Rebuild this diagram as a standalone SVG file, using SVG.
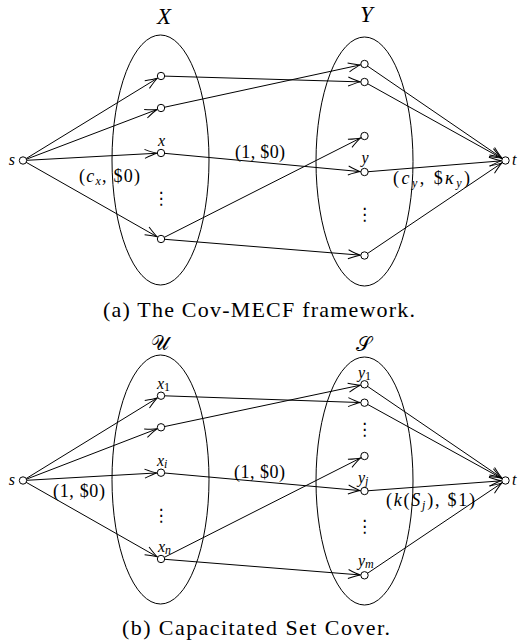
<svg xmlns="http://www.w3.org/2000/svg" width="521" height="641" viewBox="0 0 521 641">
<style>
.e{fill:none;stroke:#000;stroke-width:1}
.l{fill:none;stroke:#000;stroke-width:1;marker-end:url(#ar)}
.n{fill:#fff;stroke:#000;stroke-width:1}
text{font-family:"Liberation Serif","DejaVu Serif",serif;fill:#000}
.i{font-style:italic}
.lab{font-size:18px}
.nl{font-size:16px;font-style:italic}
.cap{font-size:22px}
.big{font-size:23px;font-style:italic}
.scr{font-size:20px}
.dots{font-family:"DejaVu Sans",sans-serif;font-size:17px}
</style>
<defs>
<marker id="ar" viewBox="-14 -6 18.3 12" refX="4.3" refY="0" markerWidth="18.3" markerHeight="12" orient="auto" markerUnits="userSpaceOnUse">
<path d="M-12,-4.5 Q-4,-1 0,0 Q-4,1 -12,4.5" fill="none" stroke="#000" stroke-width="1"/>
</marker>
</defs>

<g id="setX"><ellipse class="e" cx="160.5" cy="160" rx="48.5" ry="125"/><text class="big" x="164" y="24" text-anchor="middle">X</text></g>
<g id="setY"><ellipse class="e" cx="364.5" cy="161.5" rx="48.5" ry="124.5"/><text class="big" x="366.5" y="22" text-anchor="middle">Y</text></g>
<g id="setU"><ellipse class="e" cx="160.5" cy="479.5" rx="48.5" ry="124.5"/><text class="scr" x="160" y="350" text-anchor="middle">𝒰</text></g>
<g id="setS"><ellipse class="e" cx="364.5" cy="481" rx="48.5" ry="124"/><text class="scr" x="363" y="351" text-anchor="middle">𝒮</text></g>

<g id="connectors">
<line class="l" x1="23" y1="160.5" x2="161" y2="76"/>
<line class="l" x1="23" y1="160.5" x2="161" y2="108"/>
<line class="l" x1="23" y1="160.5" x2="161" y2="153"/>
<line class="l" x1="23" y1="160.5" x2="161" y2="239"/>
<line class="l" x1="161" y1="76" x2="364.5" y2="82"/>
<line class="l" x1="161" y1="108" x2="364.5" y2="64"/>
<line class="l" x1="161" y1="153" x2="364.5" y2="172"/>
<line class="l" x1="161" y1="239" x2="364.5" y2="136"/>
<line class="l" x1="161" y1="239" x2="364.5" y2="255.5"/>
<line class="l" x1="364.5" y1="64" x2="505.5" y2="160.5"/>
<line class="l" x1="364.5" y1="82" x2="505.5" y2="160.5"/>
<line class="l" x1="364.5" y1="172" x2="505.5" y2="160.5"/>
<line class="l" x1="364.5" y1="255.5" x2="505.5" y2="160.5"/>

<line class="l" x1="23" y1="480.5" x2="161" y2="395.7"/>
<line class="l" x1="23" y1="480.5" x2="161" y2="427.3"/>
<line class="l" x1="23" y1="480.5" x2="161" y2="472.7"/>
<line class="l" x1="23" y1="480.5" x2="161" y2="559"/>
<line class="l" x1="161" y1="395.7" x2="364.5" y2="402.7"/>
<line class="l" x1="161" y1="427.3" x2="364.5" y2="384.3"/>
<line class="l" x1="161" y1="472.7" x2="364.5" y2="491"/>
<line class="l" x1="161" y1="559" x2="364.5" y2="456"/>
<line class="l" x1="161" y1="559" x2="364.5" y2="575.3"/>
<line class="l" x1="364.5" y1="384.3" x2="505.5" y2="480.5"/>
<line class="l" x1="364.5" y1="402.7" x2="505.5" y2="480.5"/>
<line class="l" x1="364.5" y1="491" x2="505.5" y2="480.5"/>
<line class="l" x1="364.5" y1="575.3" x2="505.5" y2="480.5"/>

<text class="lab" x="79" y="182" textLength="61">(<tspan class="i">c</tspan><tspan class="i" font-size="12" dy="3">x</tspan><tspan dy="-3">, $0)</tspan></text>
<text class="lab" x="235" y="157.5" textLength="50">(1, $0)</text>
<text class="lab" x="393" y="183.5" textLength="77">(<tspan class="i">c</tspan><tspan class="i" font-size="12" dy="3">y</tspan><tspan dy="-3">, $</tspan><tspan class="i">κ</tspan><tspan class="i" font-size="12" dy="3">y</tspan><tspan dy="-3">)</tspan></text>
<text class="lab" x="53" y="496.5" textLength="52">(1, $0)</text>
<text class="lab" x="234" y="477.5" textLength="51">(1, $0)</text>
<text class="lab" x="386" y="505.5" textLength="89">(<tspan class="i">k</tspan>(<tspan class="i">S</tspan><tspan class="i" font-size="12" dy="3">j</tspan><tspan dy="-3">), $1)</tspan></text>
</g>

<g id="s1"><circle class="n" cx="23" cy="160.5" r="3.7"/><text class="nl" x="15" y="164.5" text-anchor="end">s</text></g>
<g id="t1"><circle class="n" cx="505.5" cy="160.5" r="3.7"/><text class="nl" x="512" y="165">t</text></g>
<g id="x1n"><circle class="n" cx="161" cy="76" r="3.7"/></g>
<g id="x2n"><circle class="n" cx="161" cy="108" r="3.7"/></g>
<g id="x3n"><circle class="n" cx="161" cy="153" r="3.7"/><text class="nl" x="161.5" y="145.5" text-anchor="middle">x</text></g>
<g id="x4n"><circle class="n" cx="161" cy="239" r="3.7"/></g>
<g id="xdots"><text class="dots" x="161" y="204" text-anchor="middle">⋮</text></g>
<g id="y1n"><circle class="n" cx="364.5" cy="64" r="3.7"/></g>
<g id="y2n"><circle class="n" cx="364.5" cy="82" r="3.7"/></g>
<g id="y3n"><circle class="n" cx="364.5" cy="136" r="3.7"/></g>
<g id="y4n"><circle class="n" cx="364.5" cy="172" r="3.7"/><text class="nl" x="365" y="163" text-anchor="middle">y</text></g>
<g id="y5n"><circle class="n" cx="364.5" cy="255.5" r="3.7"/></g>
<g id="ydots"><text class="dots" x="364.5" y="220" text-anchor="middle">⋮</text></g>

<g id="s2"><circle class="n" cx="23" cy="480.5" r="3.7"/><text class="nl" x="15" y="484.5" text-anchor="end">s</text></g>
<g id="t2"><circle class="n" cx="505.5" cy="480.5" r="3.7"/><text class="nl" x="512" y="485">t</text></g>
<g id="u1"><circle class="n" cx="161" cy="395.7" r="3.7"/><text class="nl" x="157" y="389">x<tspan font-size="12" font-style="normal" dy="2">1</tspan></text></g>
<g id="u2"><circle class="n" cx="161" cy="427.3" r="3.7"/></g>
<g id="u3"><circle class="n" cx="161" cy="472.7" r="3.7"/><text class="nl" x="157" y="466">x<tspan font-size="12" dy="2">i</tspan></text></g>
<g id="u4"><circle class="n" cx="161" cy="559" r="3.7"/><text class="nl" x="158" y="552">x<tspan font-size="12" dy="2">n</tspan></text></g>
<g id="udots"><text class="dots" x="161" y="521" text-anchor="middle">⋮</text></g>
<g id="v1"><circle class="n" cx="364.5" cy="384.3" r="3.7"/><text class="nl" x="358" y="378">y<tspan font-size="12" font-style="normal" dy="2">1</tspan></text></g>
<g id="v2"><circle class="n" cx="364.5" cy="402.7" r="3.7"/></g>
<g id="vdots1"><text class="dots" x="364.5" y="435" text-anchor="middle">⋮</text></g>
<g id="v3"><circle class="n" cx="364.5" cy="456" r="3.7"/></g>
<g id="v4"><circle class="n" cx="364.5" cy="491" r="3.7"/><text class="nl" x="358" y="483">y<tspan font-size="12" dy="2">j</tspan></text></g>
<g id="vdots2"><text class="dots" x="364.5" y="532" text-anchor="middle">⋮</text></g>
<g id="v5"><circle class="n" cx="364.5" cy="575.3" r="3.7"/><text class="nl" x="358" y="566">y<tspan font-size="12" dy="2">m</tspan></text></g>

<text class="cap" x="103" y="317" textLength="312">(a) The Cov-MECF framework.</text>
<text class="cap" x="122" y="635" textLength="268">(b) Capacitated Set Cover.</text>
</svg>
